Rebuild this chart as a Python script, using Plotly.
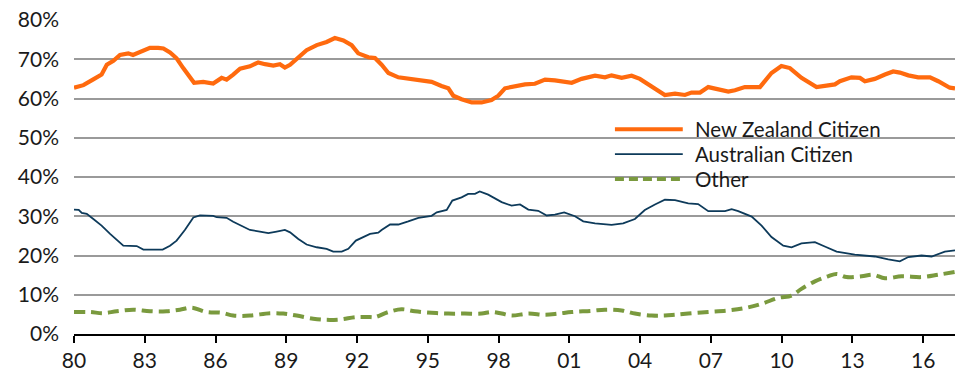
import plotly.graph_objects as go

# Share of arrivals by citizenship, decimal-year time axis
nz_year = [1980.0, 1980.4, 1980.8, 1981.17, 1981.39, 1981.67, 1981.95, 1982.3, 1982.5, 1982.87,
           1983.22, 1983.57, 1983.79, 1984.07, 1984.35, 1984.63, 1984.92, 1985.09, 1985.48, 1985.9,
           1986.26, 1986.47, 1986.75, 1987.04, 1987.46, 1987.81, 1988.1, 1988.45, 1988.73, 1988.94,
           1989.16, 1989.44, 1989.86, 1990.29, 1990.71, 1991.06, 1991.42, 1991.77, 1992.05, 1992.48,
           1992.76, 1993.04, 1993.33, 1993.75, 1994.17, 1994.6, 1995.16, 1995.58, 1995.87, 1996.08,
           1996.43, 1996.86, 1997.28, 1997.7, 1997.99, 1998.27, 1998.69, 1999.12, 1999.54, 1999.97,
           2000.39, 2001.1, 2001.52, 2002.09, 2002.51, 2002.79, 2003.22, 2003.64, 2003.99, 2004.49,
           2004.84, 2005.05, 2005.48, 2005.9, 2006.18, 2006.54, 2006.89, 2007.31, 2007.74, 2008.02,
           2008.44, 2009.08, 2009.29, 2009.57, 2009.99, 2010.35, 2010.84, 2011.2, 2011.48, 2012.26,
           2012.47, 2012.96, 2013.32, 2013.53, 2013.95, 2014.38, 2014.73, 2015.01, 2015.37, 2015.79,
           2016.29, 2016.64, 2016.92, 2017.13, 2017.35]
nz_share = [62.75, 63.4, 64.8, 66.1, 68.6, 69.6, 71.1, 71.5, 71.1, 72.1,
            72.9, 72.9, 72.75, 71.75, 70.25, 67.75, 65.25, 64.0, 64.25, 63.8,
            65.25, 64.8, 66.1, 67.6, 68.2, 69.2, 68.75, 68.4, 68.75, 67.9,
            68.6, 70.1, 72.3, 73.6, 74.4, 75.4, 74.8, 73.6, 71.5, 70.5,
            70.3, 68.6, 66.5, 65.4, 65.1, 64.6, 64.25, 63.2, 62.6, 60.7,
            59.8, 59.0, 59.0, 59.6, 60.7, 62.6, 63.2, 63.6, 63.75, 64.8,
            64.6, 64.0, 65.0, 65.8, 65.4, 65.9, 65.25, 65.8, 65.0, 63.2,
            61.75, 60.9, 61.25, 60.9, 61.5, 61.5, 62.9, 62.25, 61.75, 62.1,
            62.9, 62.9, 64.4, 66.5, 68.3, 67.75, 65.25, 64.0, 62.9, 63.6,
            64.4, 65.4, 65.25, 64.4, 65.0, 66.1, 66.9, 66.6, 65.9, 65.4,
            65.4, 64.4, 63.6, 62.75, 62.6]

au_year = [1980.0, 1980.2, 1980.33, 1980.54, 1980.82, 1981.17, 1981.53, 1981.81, 1982.09, 1982.66,
           1982.94, 1983.36, 1983.76, 1984.07, 1984.35, 1984.7, 1985.06, 1985.34, 1985.9, 1986.05,
           1986.47, 1986.75, 1987.1, 1987.46, 1987.88, 1988.24, 1988.59, 1988.94, 1989.16, 1989.51,
           1989.86, 1990.29, 1990.71, 1990.99, 1991.35, 1991.63, 1991.95, 1992.26, 1992.55, 1992.9,
           1993.04, 1993.4, 1993.75, 1994.17, 1994.6, 1995.16, 1995.38, 1995.8, 1996.04, 1996.43,
           1996.71, 1997.0, 1997.2, 1997.56, 1998.13, 1998.55, 1998.91, 1999.26, 1999.68, 2000.04,
           2000.39, 2000.78, 2001.24, 2001.59, 2002.09, 2002.79, 2003.28, 2003.78, 2004.2, 2004.63,
           2005.05, 2005.48, 2006.04, 2006.46, 2006.89, 2007.6, 2007.88, 2008.16, 2008.73, 2009.15,
           2009.57, 2010.07, 2010.42, 2010.84, 2011.41, 2011.83, 2012.33, 2013.1, 2013.95, 2014.52,
           2015.01, 2015.37, 2015.93, 2016.36, 2016.92, 2017.35]
au_share = [31.7, 31.6, 30.85, 30.6, 29.3, 27.6, 25.5, 24.0, 22.5, 22.4,
            21.5, 21.5, 21.5, 22.5, 23.8, 26.5, 29.7, 30.2, 30.1, 29.75,
            29.6, 28.6, 27.6, 26.5, 26.1, 25.7, 26.1, 26.5, 25.9, 24.2,
            22.8, 22.1, 21.7, 21.0, 21.0, 21.7, 23.8, 24.7, 25.5, 25.8,
            26.5, 27.9, 27.9, 28.7, 29.6, 30.1, 31.0, 31.6, 34.0, 34.8,
            35.7, 35.7, 36.3, 35.5, 33.6, 32.7, 33.0, 31.7, 31.4, 30.2,
            30.4, 31.0, 30.0, 28.7, 28.2, 27.8, 28.2, 29.3, 31.6, 33.0,
            34.2, 34.1, 33.3, 33.1, 31.3, 31.3, 31.8, 31.3, 29.9, 27.6,
            24.7, 22.5, 22.1, 23.1, 23.4, 22.3, 21.0, 20.2, 19.75, 19.0,
            18.5, 19.6, 20.0, 19.75, 21.0, 21.3]

other_year = [1980.0, 1980.68, 1981.24, 1981.81, 1982.51, 1983.22, 1983.93, 1984.49, 1984.99, 1985.62,
              1986.26, 1986.75, 1987.46, 1988.31, 1988.87, 1989.44, 1990.14, 1990.71, 1991.28, 1991.98,
              1992.55, 1992.76, 1993.33, 1993.89, 1994.45, 1995.16, 1995.87, 1996.57, 1997.28, 1997.68,
              1998.13, 1998.55, 1999.26, 1999.97, 2000.53, 2001.1, 2001.94, 2002.51, 2003.22, 2003.78,
              2004.49, 2005.05, 2005.48, 2006.04, 2006.89, 2007.74, 2008.44, 2009.15, 2009.86, 2010.42,
              2010.84, 2011.41, 2011.97, 2012.33, 2012.75, 2013.39, 2013.88, 2014.38, 2015.09, 2015.93,
              2016.64, 2017.35]
other_share = [5.6, 5.6, 5.3, 5.8, 6.2, 5.8, 5.8, 6.2, 6.7, 5.6,
               5.4, 4.7, 4.7, 5.3, 5.2, 4.7, 3.9, 3.6, 3.7, 4.3,
               4.3, 4.3, 5.6, 6.3, 5.8, 5.4, 5.2, 5.2, 5.2, 5.6,
               5.2, 4.7, 5.2, 4.9, 5.2, 5.6, 5.9, 6.2, 6.0, 5.2,
               4.7, 4.7, 4.9, 5.2, 5.6, 6.0, 6.6, 7.7, 9.2, 9.8,
               11.5, 13.4, 14.7, 15.3, 14.5, 14.7, 15.1, 14.2, 14.7, 14.5,
               15.1, 15.8]

tick_years = [1980, 1983, 1986, 1989, 1992, 1995, 1998, 2001, 2004, 2007, 2010, 2013, 2016]
tick_text = ["80", "83", "86", "89", "92", "95", "98", "01", "04", "07", "10", "13", "16"]
pct_ticks = [0, 10, 20, 30, 40, 50, 60, 70, 80]

series_names = ["New Zealand Citizen", "Australian Citizen", "Other"]

ORANGE = "#FF6A0E"
NAVY = "#0D3A5A"
GREEN = "#7A9A3E"
FONT = "Lato"
TEXT = "#1A1A1A"

fig = go.Figure()
fig.add_trace(go.Scatter(x=nz_year, y=nz_share, mode="lines", name=series_names[0],
                         line=dict(color=ORANGE, width=4.2)))
fig.add_trace(go.Scatter(x=au_year, y=au_share, mode="lines", name=series_names[1],
                         line=dict(color=NAVY, width=1.8)))
fig.add_trace(go.Scatter(x=other_year, y=other_share, mode="lines", name=series_names[2],
                         line=dict(color=GREEN, width=4, dash="11px,6px", shape="spline")))

# white panel behind the legend hides the gridlines it sits on
shapes = [dict(type="rect", xref="paper", yref="paper", x0=0.527, x1=1.0, y0=0.43, y1=0.725,
               fillcolor="white", line=dict(width=0), layer="between")]
annotations = []
legend_rows = [(0.652, ORANGE, 4.2, "solid"), (0.573, NAVY, 1.8, "solid"), (0.494, GREEN, 4, "9px,5px")]
for (yy, col, w, d), name in zip(legend_rows, series_names):
    shapes.append(dict(type="line", xref="paper", yref="paper", x0=0.614, x1=0.691, y0=yy, y1=yy,
                       line=dict(color=col, width=w, dash=d), layer="above"))
    annotations.append(dict(xref="paper", yref="paper", x=0.7026, y=yy, xanchor="left",
                            yanchor="middle", text=name, showarrow=False,
                            font=dict(family=FONT, size=20.5, color=TEXT)))

fig.update_layout(
    width=955, height=372,
    margin=dict(l=74, r=0, t=20, b=38),
    paper_bgcolor="white", plot_bgcolor="white",
    showlegend=False,
    shapes=shapes, annotations=annotations,
    font=dict(family=FONT, size=20, color=TEXT),
)
fig.update_xaxes(range=[1980, 2017.35], tickvals=tick_years, ticktext=tick_text,
                 showgrid=False, zeroline=False, showline=True, linecolor="black", linewidth=2,
                 ticks="outside", ticklen=7, tickwidth=2, tickcolor="black",
                 automargin=False,
                 tickfont=dict(family=FONT, size=21, color=TEXT))
fig.update_yaxes(range=[0, 80], tickvals=pct_ticks, ticktext=[f"{v}%" for v in pct_ticks],
                 showgrid=True, gridcolor="#9A9A9A", gridwidth=2, zeroline=False, showline=False,
                 ticklabelstandoff=14, automargin=False,
                 tickfont=dict(family=FONT, size=21, color=TEXT))

fig.write_html("out.html")
